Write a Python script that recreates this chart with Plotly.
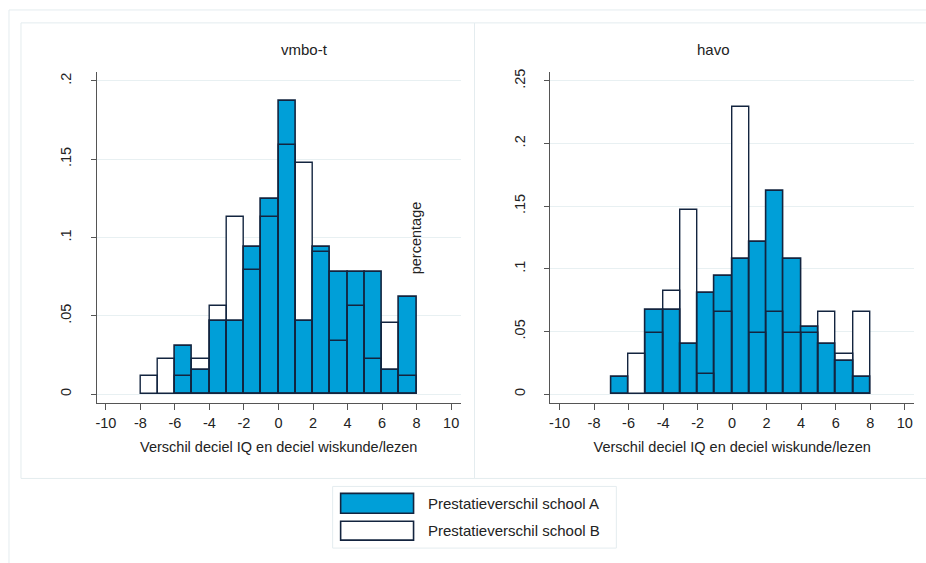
import plotly.graph_objects as go

# Histogram bins (left edge of each one-unit bin)
bin_left = [-8, -7, -6, -5, -4, -3, -2, -1, 0, 1, 2, 3, 4, 5, 6, 7]

# vmbo-t: fraction of pupils per bin
vmbo_a = [None, None, 0.0311, 0.0154, 0.0467, 0.0467, 0.0937, 0.1248,
          0.1873, 0.0467, 0.0937, 0.0779, 0.0779, 0.0779, 0.0154, 0.0622]
vmbo_b = [0.0114, 0.0226, 0.0114, 0.0226, 0.0565, 0.1134, 0.0794, 0.1134,
          0.1591, 0.1477, 0.0908, 0.0339, 0.0565, 0.0226, 0.0453, 0.0114]

# havo: fraction of pupils per bin
havo_a = [None, 0.0135, None, 0.0675, 0.0675, 0.0402, 0.0810, 0.0944,
          0.1080, 0.1214, 0.1621, 0.1080, 0.0537, 0.0402, 0.0267, 0.0135]
havo_b = [None, None, 0.0325, 0.0489, 0.0820, 0.1473, 0.0164, 0.0656,
          0.2294, 0.0489, 0.0656, 0.0489, 0.0489, 0.0656, 0.0325, 0.0656]

panel_titles = ["vmbo-t", "havo"]
x_title = "Verschil deciel IQ en deciel wiskunde/lezen"
series_names = ["Prestatieverschil school A", "Prestatieverschil school B"]
x_ticks = [-10, -8, -6, -4, -2, 0, 2, 4, 6, 8, 10]
x_labels = ["-10", "-8", "-6", "-4", "-2", "0", "2", "4", "6", "8", "10"]
y_ticks_vmbo = [0, 0.05, 0.1, 0.15, 0.2]
y_ticks_havo = [0, 0.05, 0.1, 0.15, 0.2, 0.25]
y_labels_vmbo = ["0", ".05", ".1", ".15", ".2"]
y_labels_havo = ["0", ".05", ".1", ".15", ".2", ".25"]

W, H = 926, 563
BLUE = "#009fd8"
NAVY = "#13243f"
FRAME = "#e4ecef"
GRID = "#e8f0f2"
AXIS = "#555555"
TXT = "#222222"
FONT = "Arial, Liberation Sans, sans-serif"
FS = 14.5


def px(x):
    return x / W


def py(y):
    return 1 - y / H


centers = [b + 0.5 for b in bin_left]

fig = go.Figure()


def add_panel(a_vals, b_vals, xa, ya):
    # white fill of school B, then school A, then B's outline on top
    fig.add_trace(go.Bar(x=centers, y=b_vals, width=1, xaxis=xa, yaxis=ya,
                         marker=dict(color="white", line=dict(width=0)),
                         showlegend=False, hoverinfo="skip"))
    fig.add_trace(go.Bar(x=centers, y=a_vals, width=1, xaxis=xa, yaxis=ya,
                         name=series_names[0],
                         marker=dict(color=BLUE, line=dict(color=NAVY, width=1.6)),
                         showlegend=False))
    fig.add_trace(go.Bar(x=centers, y=b_vals, width=1, xaxis=xa, yaxis=ya,
                         name=series_names[1],
                         marker=dict(color="rgba(0,0,0,0)",
                                     line=dict(color=NAVY, width=1.4)),
                         showlegend=False))


add_panel(vmbo_a, vmbo_b, "x", "y")
add_panel(havo_a, havo_b, "x2", "y2")

xcommon = dict(tickvals=x_ticks, ticktext=x_labels, ticks="outside", ticklen=6,
               tickcolor=AXIS, showline=True, linecolor=AXIS, linewidth=1,
               showgrid=False, zeroline=False,
               tickfont=dict(size=FS, color=TXT, family=FONT),
               title=dict(text=x_title, font=dict(size=FS, color=TXT, family=FONT),
                          standoff=12))
ycommon = dict(ticks="outside", ticklen=5, tickcolor=AXIS, showline=True,
               linecolor=AXIS, linewidth=1, showgrid=True, gridcolor=GRID,
               gridwidth=1, zeroline=False, tickangle=-90,
               ticklabelstandoff=14,
               tickfont=dict(size=FS, color=TXT, family=FONT))

fig.update_layout(
    width=W, height=H, autosize=False,
    margin=dict(l=0, r=0, t=0, b=0),
    paper_bgcolor="white", plot_bgcolor="white",
    barmode="overlay", bargap=0,
    font=dict(family=FONT, color=TXT),
    xaxis=dict(domain=[px(96), px(460)], range=[-10.52, 10.54], anchor="y",
               **xcommon),
    yaxis=dict(domain=[py(402.3), py(69.3)], range=[-0.0057, 0.2057],
               tickvals=y_ticks_vmbo, ticktext=y_labels_vmbo, anchor="x",
               **ycommon),
    xaxis2=dict(domain=[px(550), px(914)], range=[-10.53, 10.54], anchor="y2",
                **xcommon),
    yaxis2=dict(domain=[py(402.3), py(69.3)], range=[-0.00714, 0.2571],
                tickvals=y_ticks_havo, ticktext=y_labels_havo, anchor="x2",
                **ycommon),
)

shapes = [
    # outer graph frame
    dict(type="rect", xref="paper", yref="paper", x0=px(8), y0=py(580),
         x1=px(960), y1=py(7), line=dict(color=FRAME, width=1)),
    # panel frames
    dict(type="rect", xref="paper", yref="paper", x0=px(20), y0=py(478),
         x1=px(474), y1=py(20), line=dict(color=FRAME, width=1)),
    dict(type="rect", xref="paper", yref="paper", x0=px(474), y0=py(478),
         x1=px(960), y1=py(20), line=dict(color=FRAME, width=1)),
    # legend box and keys
    dict(type="rect", xref="paper", yref="paper", x0=px(332), y0=py(548),
         x1=px(616), y1=py(486), line=dict(color=FRAME, width=1),
         fillcolor="white"),
    dict(type="rect", xref="paper", yref="paper", x0=px(340), y0=py(513),
         x1=px(413), y1=py(493), line=dict(color=NAVY, width=1.6),
         fillcolor=BLUE),
    dict(type="rect", xref="paper", yref="paper", x0=px(340), y0=py(540),
         x1=px(413), y1=py(521), line=dict(color=NAVY, width=1.6),
         fillcolor="white"),
]


def label(text, x, y, **kw):
    base = dict(text=text, x=px(x), y=py(y), xref="paper", yref="paper",
                showarrow=False, yanchor="middle",
                font=dict(size=FS, color=TXT, family=FONT))
    base.update(kw)
    return base


annotations = [
    label(panel_titles[0], 278, 47, font=dict(size=15, color=TXT, family=FONT)),
    label(panel_titles[1], 732, 47, font=dict(size=15, color=TXT, family=FONT)),
    label("percentage", 415, 236, textangle=-90),
    label(series_names[0], 425, 503, xanchor="left",
          font=dict(size=15, color=TXT, family=FONT)),
    label(series_names[1], 425, 530, xanchor="left",
          font=dict(size=15, color=TXT, family=FONT)),
]

fig.update_layout(shapes=shapes, annotations=annotations)

fig.write_html("out.html")
